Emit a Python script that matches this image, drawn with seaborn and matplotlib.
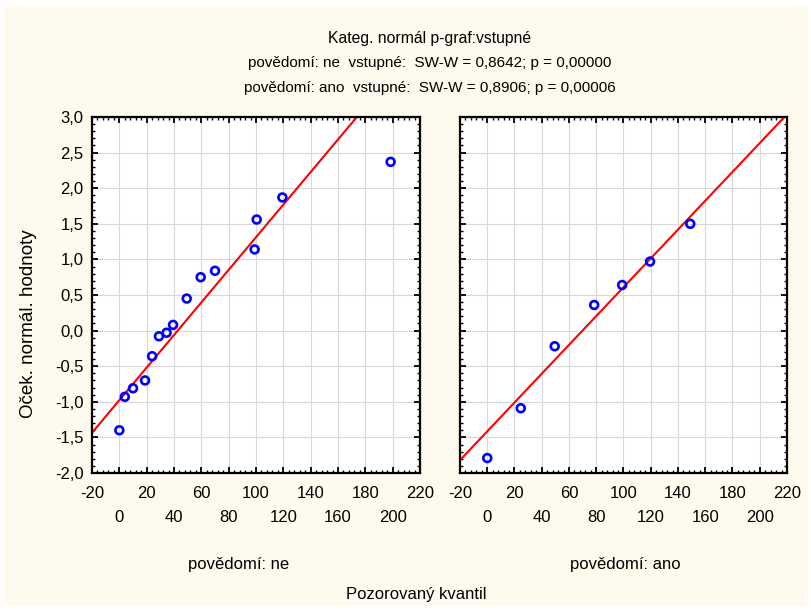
import numpy as np
import pandas as pd
import matplotlib
matplotlib.use("Agg")
import matplotlib.pyplot as plt
from matplotlib.patches import Rectangle
from matplotlib.ticker import AutoMinorLocator
import seaborn as sns

# ---- data ----
ne_observed = [0, 4, 10, 18.8, 24, 29, 34.6, 39.3, 49.3, 59.5, 70, 99, 100.5, 119.3, 198.5]
ne_expected = [-1.40, -0.93, -0.81, -0.70, -0.36, -0.08, -0.03, 0.08, 0.45, 0.75, 0.84, 1.14, 1.56, 1.87, 2.37]
ano_observed = [0, 24.6, 49.5, 78.5, 99, 119.5, 149]
ano_expected = [-1.79, -1.09, -0.22, 0.36, 0.64, 0.97, 1.50]
# fitted normal line parameters: y = (x - mean) / sd
ne_mean, ne_sd = 42.7, 43.7
ano_mean, ano_sd = 69.9, 49.4

title_lines = ["Kateg. normál p-graf:vstupné",
               "povědomí: ne  vstupné:  SW-W = 0,8642; p = 0,00000",
               "povědomí: ano  vstupné:  SW-W = 0,8906; p = 0,00006"]
panel_labels = ["povědomí: ne", "povědomí: ano"]
x_label = "Pozorovaný kvantil"
y_label = "Oček. normál. hodnoty"
x_ticks = list(range(-20, 221, 20))
y_ticks = [-2.0, -1.5, -1.0, -0.5, 0.0, 0.5, 1.0, 1.5, 2.0, 2.5, 3.0]

sns.set_theme(style="white")
plt.rcParams['font.family'] = ['Liberation Sans', 'DejaVu Sans']

W, H = 812, 612
fig = plt.figure(figsize=(W / 100, H / 100), dpi=100, facecolor="white")
bg = "#fefaee"
fig.patches.append(Rectangle((4 / W, 1 - 606 / H), (808 - 4) / W, (606 - 7) / H,
                             transform=fig.transFigure, facecolor=bg, edgecolor="none", zorder=-10))

def axrect(x0, y0, x1, y1):
    return [x0 / W, 1 - y1 / H, (x1 - x0) / W, (y1 - y0) / H]

ax1 = fig.add_axes(axrect(92, 117, 420, 473))
ax2 = fig.add_axes(axrect(460, 117, 787, 473))

groups = [(ax1, ne_observed, ne_expected, ne_mean, ne_sd),
          (ax2, ano_observed, ano_expected, ano_mean, ano_sd)]

xt_labels = []
for i, t in enumerate(x_ticks):
    xt_labels.append(f"{t}" if i % 2 == 0 else f"\n{t}")

for k, (ax, xo, ye, mu, sd) in enumerate(groups):
    ax.set_facecolor("white")
    ax.set_xlim(-20, 220)
    ax.set_ylim(-2.0, 3.0)
    ax.grid(True, color="#d8d8d8", linewidth=0.8)
    ax.set_axisbelow(True)
    # fitted line over full x range
    xl = np.array([-20.0, 220.0])
    line_df = pd.DataFrame({"x": xl, "y": (xl - mu) / sd})
    sns.lineplot(data=line_df, x="x", y="y", ax=ax, color="#ff0000", linewidth=1.5, zorder=2)
    df = pd.DataFrame({"x": xo, "y": ye})
    sns.scatterplot(data=df, x="x", y="y", ax=ax, marker="o", s=32,
                    facecolor="none", edgecolor="#0000ff", linewidth=1.9, zorder=3)
    ax.set_xlabel("")
    ax.set_ylabel("")
    ax.set_xticks(x_ticks)
    ax.set_xticklabels(xt_labels, fontsize=12, linespacing=1.75)
    ax.set_yticks(y_ticks)
    if k == 0:
        ax.set_yticklabels([f"{v:.1f}".replace(".", ",") for v in y_ticks], fontsize=12)
    else:
        ax.set_yticklabels([])
    ax.xaxis.set_minor_locator(AutoMinorLocator(5))
    ax.yaxis.set_minor_locator(AutoMinorLocator(5))
    ax.tick_params(which="major", direction="in", length=4, width=1.3, color="black",
                   top=True, right=True, bottom=True, left=True, labelcolor="black")
    ax.tick_params(axis="x", which="major", pad=9)
    ax.tick_params(axis="y", which="major", pad=6)
    ax.tick_params(which="minor", direction="in", length=2.5, width=1.0, color="black",
                   top=True, right=True, bottom=True, left=True)
    for s in ax.spines.values():
        s.set_color("black")
        s.set_linewidth(1.6)
        s.set_visible(True)

# titles
for i, t in enumerate(title_lines):
    fig.text(430 / W, 1 - (38 + 25 * i) / H, t, ha="center", va="center",
             fontsize=11.3 if i == 0 else 11, color="black")

fig.text(239 / W, 1 - 565 / H, panel_labels[0], ha="center", va="center", fontsize=12, color="black")
fig.text(625 / W, 1 - 565 / H, panel_labels[1], ha="center", va="center", fontsize=12, color="black")
fig.text(416 / W, 1 - 595 / H, x_label, ha="center", va="center", fontsize=12, color="black")
fig.text(29 / W, 1 - 324 / H, y_label, ha="center", va="center", rotation=90, fontsize=13.5, color="black")

fig.savefig("out.png", dpi=100, facecolor=fig.get_facecolor())
